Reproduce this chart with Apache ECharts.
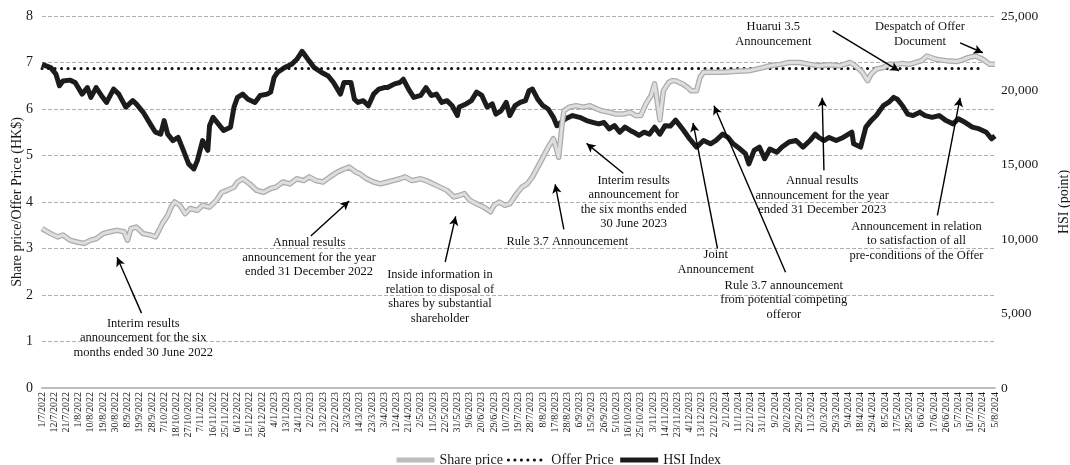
<!DOCTYPE html>
<html>
<head>
<meta charset="utf-8">
<script src="https://cdn.jsdelivr.net/npm/echarts@6/dist/echarts.min.js"></script>
<style>
html, body { margin: 0; padding: 0; background: #fff; }
#chart { width: 1070px; height: 465px; }
</style>
</head>
<body>
<div id="chart"></div>
<script>
// trading days (Mon-Fri) shown on the x axis
var startDate = '2022-07-01';
var endDate = '2024-08-05';
var labelEvery = 7;

// share price (HK$): [weekday index, price]
var shareData = [
  [0,3.43],[5,3.32],[9,3.25],[12,3.29],[16,3.18],[20,3.14],[24,3.11],[28,3.18],[31,3.21],[35,3.32],
  [39,3.36],[43,3.39],[47,3.36],[49,3.18],[51,3.43],[54,3.46],[58,3.32],[62,3.29],[65,3.25],[67,3.39],
  [69,3.54],[72,3.71],[74,3.89],[76,4.0],[79,3.93],[82,3.75],[85,3.86],[89,3.82],[92,3.93],[96,3.89],
  [100,4.04],[103,4.21],[106,4.25],[110,4.32],[112,4.43],[115,4.5],[119,4.39],[123,4.25],[127,4.21],[131,4.29],
  [134,4.32],[138,4.43],[142,4.39],[146,4.5],[150,4.46],[153,4.54],[157,4.46],[161,4.43],[165,4.54],[169,4.64],
  [173,4.71],[176,4.75],[180,4.64],[182,4.61],[186,4.5],[190,4.43],[194,4.39],[198,4.43],[201,4.46],[205,4.5],
  [208,4.54],[212,4.46],[217,4.5],[220,4.46],[224,4.39],[228,4.32],[232,4.25],[236,4.11],[239,4.14],[242,4.18],
  [245,4.04],[249,3.96],[253,3.89],[257,3.79],[259,3.93],[262,4.0],[265,3.93],[268,3.96],[272,4.18],[275,4.32],
  [278,4.39],[281,4.54],[284,4.75],[287,4.96],[290,5.18],[293,5.36],[295,5.11],[296,4.96],[298,5.68],[299,5.96],
  [302,6.04],[306,6.07],[310,6.04],[314,6.07],[318,6.0],[321,5.96],[325,5.93],[329,5.89],[333,5.89],[337,5.93],
  [340,5.86],[343,5.86],[346,6.11],[349,6.29],[351,6.54],[352,6.57],[354,5.77],[356,6.39],[359,6.57],[361,6.61],
  [363,6.61],[367,6.54],[370,6.46],[372,6.39],[375,6.39],[377,6.68],[379,6.79],[384,6.79],[390,6.79],[398,6.81],
  [405,6.82],[413,6.89],[417,6.93],[423,6.96],[428,7.0],[434,7.0],[440,6.96],[445,6.93],[451,6.95],[457,6.93],
  [463,7.0],[466,6.93],[470,6.79],[473,6.61],[475,6.75],[478,6.86],[482,6.89],[485,6.96],[489,6.96],[493,6.98],
  [497,6.96],[504,7.04],[507,7.14],[512,7.07],[518,7.04],[524,7.02],[527,7.05],[531,7.11],[535,7.14],[539,7.07],
  [543,6.96],[546,6.96]
];

// offer price (HK$) and the days it is drawn between
var offerPrice = 6.87;
var offerFrom = '1/7/2022';
var offerTo = '24/7/2024';

// Hang Seng Index (points): [weekday index, level]
var hsiData = [
  [0,21750],[5,21530],[8,21090],[10,20310],[12,20630],[16,20690],[19,20530],[23,19750],[26,20190],[28,19530],
  [31,20190],[34,19660],[37,19190],[41,20090],[44,19750],[48,18880],[52,19310],[54,19090],[58,18530],[62,17750],
  [65,17190],[68,17060],[70,17970],[72,17060],[75,16630],[78,16840],[81,15970],[84,15060],[87,14720],[89,15280],
  [92,16630],[95,15970],[96,17630],[98,18190],[101,17750],[104,17310],[108,17530],[110,18880],[112,19530],[115,19750],
  [118,19410],[122,19190],[125,19660],[129,19750],[131,19880],[133,20880],[135,21220],[139,21530],[143,21750],[146,22090],
  [149,22630],[153,22000],[156,21530],[160,21220],[164,20970],[167,20530],[171,19750],[173,20530],[177,20530],[179,19410],
  [181,19190],[184,19310],[187,18970],[190,19750],[193,20090],[196,20190],[198,20190],[202,20440],[205,20530],[207,20750],
  [210,20090],[213,19530],[217,19660],[220,20190],[223,19660],[226,19750],[229,19190],[232,19310],[235,18970],[238,18310],
  [239,18880],[243,19090],[246,19310],[249,19880],[252,19660],[255,18880],[258,19090],[260,18410],[263,18630],[266,19190],
  [268,18310],[271,18970],[274,19190],[277,19310],[279,19970],[281,20090],[284,19410],[287,18970],[290,18750],[293,18190],
  [295,17630],[300,18090],[304,18310],[308,18190],[312,17970],[316,17840],[319,17750],[322,17840],[325,17410],[328,17630],
  [331,17190],[334,17530],[337,17310],[339,17190],[342,16970],[345,17190],[348,17060],[351,17530],[354,17060],[357,17630],
  [360,17600],[363,18000],[367,17410],[371,16750],[375,16190],[379,16630],[383,16410],[386,16630],[390,17060],[393,16840],
  [396,16410],[400,16060],[403,15750],[405,15060],[408,15970],[411,16190],[414,15410],[417,16060],[421,15840],[424,16190],
  [428,16530],[432,16630],[436,16190],[440,16630],[443,17060],[445,16840],[448,16630],[451,16840],[455,16630],[459,16840],
  [464,17190],[465,16410],[469,16190],[472,17530],[475,17970],[478,18310],[482,18970],[485,19190],[488,19530],[490,19410],
  [493,18970],[496,18410],[499,18310],[503,18530],[506,18310],[510,18190],[514,18310],[518,17970],[522,17750],[525,18090],
  [529,17840],[533,17530],[537,17410],[541,17190],[544,16750],[546,16940]
];

// axis ranges
var priceMin = 0, priceMax = 8, priceStep = 1;
var hsiMin = 0, hsiMax = 25000, hsiStep = 5000;

// event notes, placed in (weekday index, HK$) space
var notes = [
  { text: 'Interim results\nannouncement for the six\nmonths ended 30 June 2022', at: [58.3, 1.08], from: [57.2, 1.61], to: [42.9, 2.81] },
  { text: 'Annual results\nannouncement for the year\nended 31 December 2022', at: [152.7, 2.81], from: [153.8, 3.27], to: [175.5, 4.02] },
  { text: 'Inside information in\nrelation to disposal of\nshares by substantial\nshareholder', at: [228.1, 1.96], from: [231.0, 2.71], to: [236.7, 3.69] },
  { text: 'Rule 3.7 Announcement', at: [301.3, 3.14], from: [298.5, 3.41], to: [293.9, 4.38] },
  { text: 'Interim results\nannouncement for\nthe six months ended\n30 June 2023', at: [338.5, 3.99], from: [332.8, 4.62], to: [311.6, 5.26] },
  { text: 'Joint\nAnnouncement', at: [385.9, 2.70], from: [387.1, 3.0], to: [372.8, 5.70] },
  { text: 'Rule 3.7 announcement\nfrom potential competing\nofferor', at: [425.4, 1.89], from: [426.0, 2.49], to: [385.4, 6.07] },
  { text: 'Annual results\nannouncement for the year\nended 31 December 2023', at: [447.1, 4.14], from: [447.7, 4.68], to: [446.5, 6.24] },
  { text: 'Announcement in relation\nto satisfaction of all\npre-conditions of the Offer', at: [501.4, 3.16], from: [512.9, 3.71], to: [526.0, 6.24] },
  { text: 'Huarui 3.5\nAnnouncement', at: [418.5, 7.61], from: [452.8, 7.68], to: [491.1, 6.82] },
  { text: 'Despatch of Offer\nDocument', at: [503.1, 7.61], from: [526.0, 7.42], to: [538.6, 7.21] }
];

function weekdays(a, b) {
  var out = [];
  var d = new Date(a + 'T00:00:00Z');
  var e = new Date(b + 'T00:00:00Z');
  while (d <= e) {
    var w = d.getUTCDay();
    if (w !== 0 && w !== 6) {
      out.push(d.getUTCDate() + '/' + (d.getUTCMonth() + 1) + '/' + d.getUTCFullYear());
    }
    d.setUTCDate(d.getUTCDate() + 1);
  }
  return out;
}

var days = weekdays(startDate, endDate);
var serif = 'Liberation Serif';

var myChart = echarts.init(document.getElementById('chart'));

var option = {
  backgroundColor: '#fff',
  animation: false,
  textStyle: { fontFamily: serif, color: '#1a1a1a' },
  grid: { left: 42, right: 75, top: 16, bottom: 77, outerBoundsMode: 'none' },
  legend: {
    left: 389,
    top: 448,
    itemWidth: 38,
    itemHeight: 12,
    itemGap: 4,
    itemStyle: { opacity: 0 },
    textStyle: { fontFamily: serif, fontSize: 14, color: '#1a1a1a' },
    data: [
      { name: 'Share price', lineStyle: { width: 5, color: '#bdbdbd' } },
      { name: 'Offer Price', lineStyle: { width: 3 } },
      { name: 'HSI Index', lineStyle: { width: 5 } }
    ]
  },
  xAxis: {
    type: 'category',
    data: days,
    boundaryGap: false,
    axisTick: { show: false },
    axisLine: { lineStyle: { color: '#bdbdbd', width: 2 } },
    axisLabel: {
      interval: labelEvery - 1,
      rotate: 90,
      margin: 4,
      fontSize: 10,
      fontFamily: serif,
      color: '#1a1a1a'
    },
    splitLine: { show: false }
  },
  yAxis: [
    {
      type: 'value',
      min: priceMin,
      max: priceMax,
      interval: priceStep,
      name: 'Share price/Offer Price (HK$)',
      nameLocation: 'middle',
      nameGap: 18,
      nameMoveOverlap: false,
      nameTextStyle: { fontFamily: serif, fontSize: 14, color: '#1a1a1a' },
      axisLine: { show: false },
      axisTick: { show: false },
      axisLabel: { margin: 9, fontSize: 14, fontFamily: serif, color: '#1a1a1a' },
      splitLine: { lineStyle: { color: '#9a9a9a', width: 0.8, type: [4, 2] } }
    },
    {
      type: 'value',
      min: hsiMin,
      max: hsiMax,
      interval: hsiStep,
      position: 'right',
      name: 'HSI (point)',
      nameLocation: 'middle',
      nameRotate: 90,
      nameGap: 62,
      nameTextStyle: { fontFamily: serif, fontSize: 14, color: '#1a1a1a' },
      axisLine: { show: false },
      axisTick: { show: false },
      axisLabel: {
        margin: 6,
        fontSize: 13.5,
        fontFamily: serif,
        color: '#1a1a1a',
        formatter: function (v) { return v.toLocaleString('en-US'); }
      },
      splitLine: { show: false }
    }
  ],
  series: [
    {
      name: 'HSI Index',
      type: 'line',
      yAxisIndex: 1,
      symbol: 'none',
      color: '#1c1c1c',
      lineStyle: { color: '#1c1c1c', width: 5, join: 'round' },
      data: hsiData
    },
    {
      name: 'Offer Price',
      type: 'line',
      yAxisIndex: 0,
      symbol: 'none',
      color: '#111',
      lineStyle: { color: '#111', width: 3, type: [0.1, 6.4], cap: 'round' },
      data: [[offerFrom, offerPrice], [offerTo, offerPrice]],
      markLine: {
        silent: true,
        symbol: ['none', 'arrow'],
        symbolSize: [7, 9],
        label: { show: false },
        lineStyle: { color: '#000', width: 1.4, type: 'solid' },
        data: notes.map(function (n) {
          return [{ coord: n.from }, { coord: n.to }];
        })
      },
      markPoint: {
        silent: true,
        symbol: 'circle',
        symbolSize: 0,
        data: notes.map(function (n) {
          return {
            coord: n.at,
            label: {
              show: true,
              position: 'inside',
              formatter: n.text,
              fontFamily: serif,
              fontSize: 12.5,
              lineHeight: 14.5,
              align: 'center',
              color: '#111'
            }
          };
        })
      }
    },
    {
      name: 'Share price',
      type: 'line',
      yAxisIndex: 0,
      symbol: 'none',
      color: '#b0b0b0',
      lineStyle: { color: '#acacac', width: 5.5, join: 'round' },
      data: shareData
    },
    {
      name: 'Share price fill',
      type: 'line',
      yAxisIndex: 0,
      symbol: 'none',
      silent: true,
      lineStyle: { color: '#dedede', width: 3, join: 'round' },
      data: shareData
    }
  ]
};

myChart.setOption(option);
</script>
</body>
</html>
